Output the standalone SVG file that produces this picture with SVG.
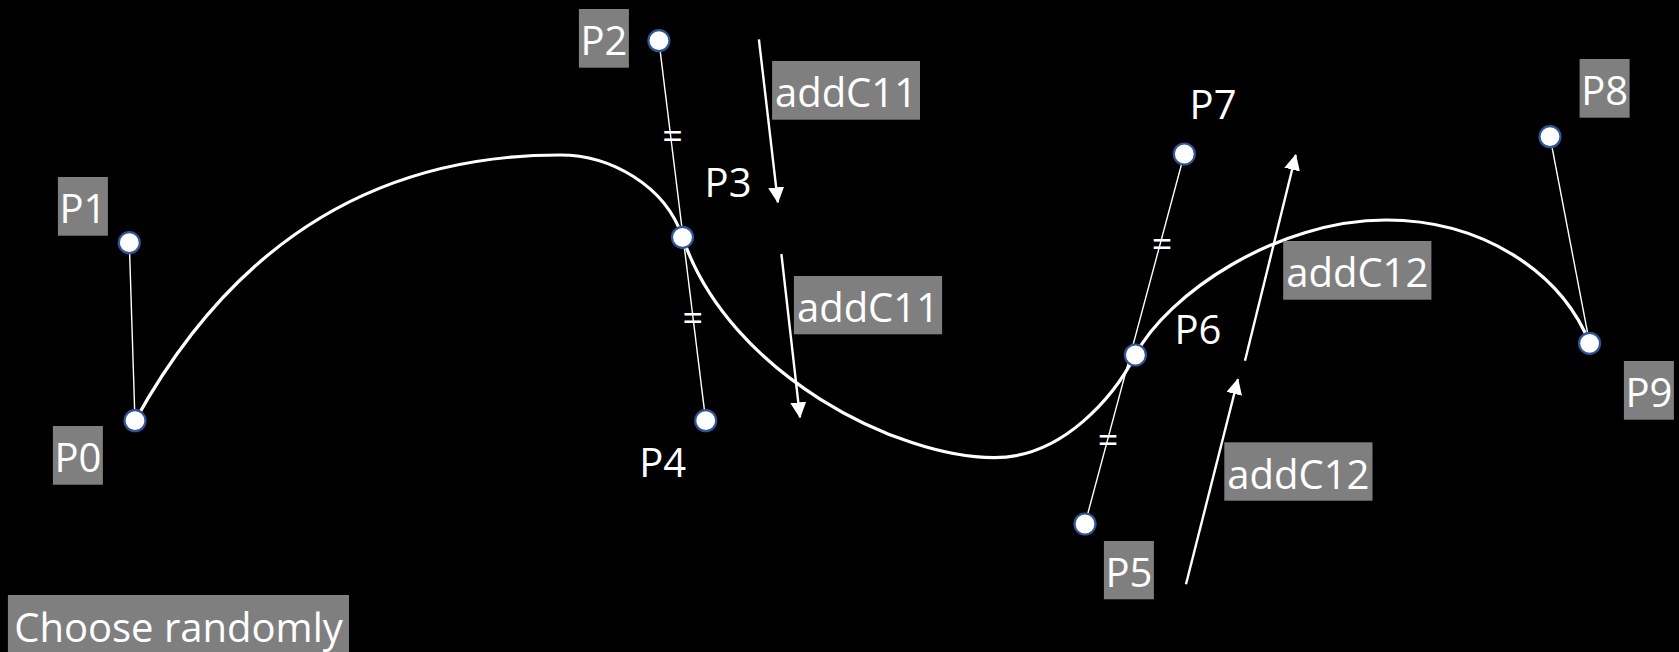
<svg xmlns="http://www.w3.org/2000/svg" width="1679" height="652" viewBox="0 0 1679 652">
<style>
.t{font-family:"Open Sans","Noto Sans",sans-serif;font-size:40px;fill:#FFFFFF}
.m{text-anchor:middle}
.bx{fill:#7F7F7F}
.pt{fill:#FFFFFF;stroke:#2F5597;stroke-width:2.2}
.ln{stroke:#FFFFFF;stroke-width:1.4;fill:none}
.cv{stroke:#FFFFFF;stroke-width:3.2;fill:none}
.ar{stroke:#FFFFFF;stroke-width:2.4;fill:none;marker-end:url(#ah)}
.eq{font-family:"Open Sans","Noto Sans",sans-serif;font-size:36px;fill:#FFFFFF;text-anchor:middle}
</style>
<defs>
<marker id="ah" markerUnits="userSpaceOnUse" markerWidth="16" markerHeight="16" viewBox="0 0 16 16" refX="15" refY="8" orient="auto">
<path d="M0,0 L16,8 L0,16 Z" fill="#FFFFFF"/>
</marker>
</defs>
<rect width="1679" height="652" fill="#000000"/>
<g id="connectors">
<path class="cv" d="M135,421 C218.6,269 350,155 560,155 C610,155 665,185 682.5,237 C728.9,374.8 899,457.7 994,457.7 C1064,457.7 1114.6,395 1135.4,355 C1166.6,295 1276,220 1386,220 C1480,220 1560,270 1589.6,343"/>
<line class="ln" x1="129.3" y1="242.7" x2="135" y2="421"/>
<line class="ln" x1="658.9" y1="40.7" x2="705.7" y2="420.7"/>
<line class="ln" x1="1184.3" y1="154" x2="1085" y2="524"/>
<line class="ln" x1="1550" y1="136.7" x2="1589.6" y2="343.3"/>
<line class="ar" x1="758.9" y1="39.3" x2="777.9" y2="202.3"/>
<line class="ar" x1="781.4" y1="254" x2="800" y2="417.3"/>
<line class="ar" x1="1245" y1="360.7" x2="1295.7" y2="155"/>
<line class="ar" x1="1186" y1="584.3" x2="1237.9" y2="379.3"/>
<text class="eq" x="672.5" y="149">=</text>
<text class="eq" x="692.9" y="331">=</text>
<text class="eq" x="1108" y="453">=</text>
<text class="eq" x="1162" y="257">=</text>
</g>
<g id="P0"><circle class="pt" cx="135" cy="420.7" r="10.5"/><rect class="bx" x="52.9" y="426" width="50" height="58.7"/><text class="t m" x="77.9" y="472.3">P0</text></g>
<g id="P1"><circle class="pt" cx="129.3" cy="242.7" r="10.5"/><rect class="bx" x="57.9" y="177" width="50" height="58.7"/><text class="t m" x="82.9" y="223.3">P1</text></g>
<g id="P2"><circle class="pt" cx="658.9" cy="40.7" r="10.5"/><rect class="bx" x="578.9" y="9" width="50" height="58.7"/><text class="t m" x="603.9" y="55.3">P2</text></g>
<g id="P3"><circle class="pt" cx="682.5" cy="237.3" r="10.5"/><text class="t" x="704.6" y="196.7">P3</text></g>
<g id="P4"><circle class="pt" cx="705.7" cy="420.7" r="10.5"/><text class="t" x="639.3" y="476.7">P4</text></g>
<g id="P5"><circle class="pt" cx="1085" cy="524" r="10.5"/><rect class="bx" x="1103.9" y="541" width="50" height="58.3"/><text class="t m" x="1128.9" y="587">P5</text></g>
<g id="P6"><circle class="pt" cx="1135.4" cy="355" r="10.5"/><text class="t" x="1174.5" y="344">P6</text></g>
<g id="P7"><circle class="pt" cx="1184.3" cy="154" r="10.5"/><text class="t" x="1189.6" y="119">P7</text></g>
<g id="P8"><circle class="pt" cx="1550" cy="136.7" r="10.5"/><rect class="bx" x="1579.6" y="59" width="50" height="58.7"/><text class="t m" x="1604.6" y="105.3">P8</text></g>
<g id="P9"><circle class="pt" cx="1589.6" cy="343.3" r="10.5"/><rect class="bx" x="1623.9" y="361" width="50" height="58.7"/><text class="t m" x="1648.9" y="407.3">P9</text></g>
<g id="addC11a"><rect class="bx" x="772.1" y="61" width="147.9" height="58.7"/><text class="t m" x="846" y="107.3">addC11</text></g>
<g id="addC11b"><rect class="bx" x="793.9" y="276" width="148.2" height="58.3"/><text class="t m" x="868" y="322">addC11</text></g>
<g id="addC12a"><rect class="bx" x="1283.2" y="241" width="148.2" height="58.7"/><text class="t m" x="1357.3" y="287.3">addC12</text></g>
<g id="addC12b"><rect class="bx" x="1224.3" y="442.3" width="148.2" height="58.4"/><text class="t m" x="1298.4" y="488.5">addC12</text></g>
<g id="choose"><rect class="bx" x="7.9" y="595" width="341.1" height="57"/><text class="t m" x="178.5" y="641.7">Choose randomly</text></g>
</svg>
